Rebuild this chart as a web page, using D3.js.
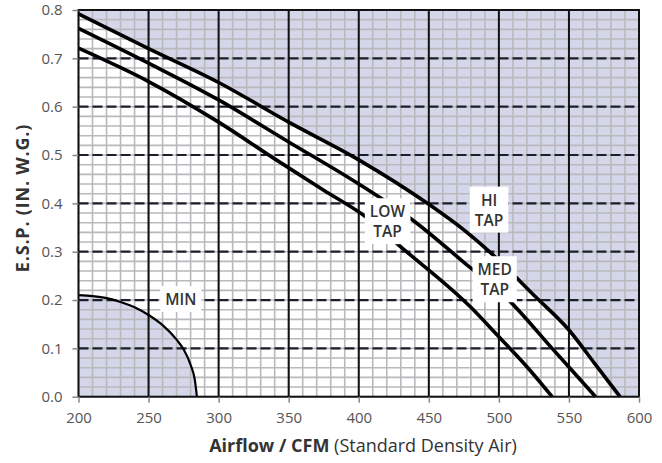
<!DOCTYPE html>
<html>
<head>
<meta charset="utf-8">
<script src="https://cdn.jsdelivr.net/npm/d3@7"></script>
<style>
  body { margin: 0; background: #fff; }
  svg { display: block; font-family: 'Open Sans', sans-serif; }
</style>
</head>
<body>
<div id="chart"></div>
<script>
// Fan curves: [CFM, E.S.P. in. w.g.]
const hiTap = [[200, 0.792], [250, 0.72], [300, 0.65], [350, 0.568], [400, 0.49], [450, 0.398], [475, 0.345], [500, 0.282], [525, 0.21], [550, 0.138], [568, 0.07], [586.5, 0]];
const medTap = [[200, 0.762], [250, 0.69], [300, 0.614], [350, 0.527], [400, 0.44], [440, 0.362], [475, 0.278], [507, 0.2], [538, 0.1], [569, 0]];
const lowTap = [[200, 0.721], [250, 0.652], [300, 0.568], [340, 0.492], [375, 0.427], [405, 0.372], [430, 0.31], [480, 0.185], [500, 0.124], [520, 0.062], [538, 0]];
const minCurve = [[200, 0.21], [210, 0.208], [220, 0.204], [230, 0.196], [240, 0.185], [250, 0.169], [260, 0.148], [270, 0.118], [275, 0.098], [280, 0.066], [283, 0.035], [284.5, 0]];

const xTicks = [200, 250, 300, 350, 400, 450, 500, 550, 600];
const yTicks = [0, 0.1, 0.2, 0.3, 0.4, 0.5, 0.6, 0.7, 0.8];

// label anchors [CFM, value, text lines]
const tapLabels = [
  { cfm: 420.5, v: 0.362, lines: ['LOW', 'TAP'] },
  { cfm: 493, v: 0.386, lines: ['HI', 'TAP'] },
  { cfm: 497, v: 0.242, lines: ['MED', 'TAP'] },
  { cfm: 273, v: 0.201, lines: ['MIN'] }
];

const W = 662, H = 463;
const svg = d3.select('#chart').append('svg').attr('width', W).attr('height', H);

const x = d3.scaleLinear().domain([200, 600]).range([78.5, 639]);
const y = d3.scaleLinear().domain([0, 0.8]).range([396.7, 10]);

const lavender = '#d4d7e9';

// plot background
svg.append('rect')
  .attr('x', x(200)).attr('y', y(0.8))
  .attr('width', x(600) - x(200)).attr('height', y(0) - y(0.8))
  .attr('fill', '#fff');

// shaded region above HI TAP curve
const aboveArea = d3.area()
  .x(d => x(d[0]))
  .y0(y(0.8))
  .y1(d => y(d[1]))
  .curve(d3.curveMonotoneX);
svg.append('path')
  .attr('d', aboveArea(hiTap.concat([[600, 0]])))
  .attr('fill', lavender);

// shaded region under MIN curve
const belowArea = d3.area()
  .x(d => x(d[0]))
  .y0(y(0))
  .y1(d => y(d[1]))
  .curve(d3.curveMonotoneX);
svg.append('path')
  .attr('d', belowArea(minCurve))
  .attr('fill', lavender);

// minor grid
const grid = svg.append('g');
grid.selectAll('.vminor')
  .data(x.ticks(40))
  .join('line')
  .attr('x1', d => x(d)).attr('x2', d => x(d))
  .attr('y1', y(0.8)).attr('y2', y(0))
  .attr('stroke', '#b9b9bd').attr('stroke-width', 1.6);
grid.selectAll('.hminor')
  .data(y.ticks(40))
  .join('line')
  .attr('y1', d => y(d)).attr('y2', d => y(d))
  .attr('x1', x(200)).attr('x2', x(600))
  .attr('stroke', '#b9b9bd').attr('stroke-width', 1.6);

// major grid: dashed horizontals, solid verticals
grid.selectAll('.hmajor')
  .data(yTicks.slice(1, -1))
  .join('line')
  .attr('y1', d => y(d)).attr('y2', d => y(d))
  .attr('x1', x(200)).attr('x2', x(600))
  .attr('stroke', '#1c1e2a').attr('stroke-width', 2.2)
  .attr('stroke-dasharray', '10,4');
grid.selectAll('.vmajor')
  .data(xTicks.slice(1, -1))
  .join('line')
  .attr('x1', d => x(d)).attr('x2', d => x(d))
  .attr('y1', y(0.8)).attr('y2', y(0))
  .attr('stroke', '#111').attr('stroke-width', 2);

// curves
const line = d3.line()
  .x(d => x(d[0]))
  .y(d => y(d[1]))
  .curve(d3.curveMonotoneX);

svg.selectAll('.tap')
  .data([hiTap, medTap, lowTap])
  .join('path')
  .attr('d', line)
  .attr('fill', 'none')
  .attr('stroke', '#000')
  .attr('stroke-width', 3.6);

svg.append('path')
  .attr('d', line(minCurve))
  .attr('fill', 'none')
  .attr('stroke', '#000')
  .attr('stroke-width', 2.2);

// labels with white boxes
tapLabels.forEach(l => {
  const g = svg.append('g').attr('transform', `translate(${x(l.cfm)},${y(l.v)})`);
  const lh = 20;
  const t = g.append('text')
    .attr('text-anchor', 'middle')
    .style('font-size', '15.5px')
    .style('font-weight', 600)
    .attr('fill', '#333');
  l.lines.forEach((s, i) => {
    t.append('tspan')
      .attr('x', 0)
      .attr('y', (i - (l.lines.length - 1) / 2) * lh + 5.5)
      .text(s);
  });
  const bb = t.node().getBBox();
  g.insert('rect', 'text')
    .attr('x', bb.x - 5).attr('y', bb.y - 2)
    .attr('width', bb.width + 10).attr('height', bb.height + 4)
    .attr('fill', '#fff');
});

// border
svg.append('rect')
  .attr('x', x(200)).attr('y', y(0.8))
  .attr('width', x(600) - x(200)).attr('height', y(0) - y(0.8))
  .attr('fill', 'none')
  .attr('stroke', '#111').attr('stroke-width', 2);

// axes
const xAxis = svg.append('g')
  .attr('transform', `translate(0,${y(0)})`)
  .call(d3.axisBottom(x).tickValues(xTicks).tickSize(6).tickPadding(10).tickFormat(d3.format('d')));
const yAxis = svg.append('g')
  .attr('transform', `translate(${x(200)},0)`)
  .call(d3.axisLeft(y).tickValues(yTicks).tickSize(6).tickPadding(10).tickFormat(d3.format('.1f')));

[xAxis, yAxis].forEach(a => {
  a.select('.domain').remove();
  a.selectAll('line').attr('stroke', '#888').attr('stroke-width', 1.5);
  a.selectAll('text')
    .attr('fill', '#555')
    .style('font-size', '15px')
    .style('font-family', "'Open Sans', sans-serif");
});

// axis titles
const xt = svg.append('text')
  .attr('x', 363).attr('y', 452)
  .attr('text-anchor', 'middle')
  .attr('fill', '#333')
  .style('font-size', '18px');
xt.append('tspan').style('font-weight', 700).text('Airflow / CFM');
xt.append('tspan').text(' (Standard Density Air)');

svg.append('text')
  .attr('transform', `translate(29,198) rotate(-90)`)
  .attr('text-anchor', 'middle')
  .attr('fill', '#333')
  .style('font-size', '18px')
  .style('font-weight', 700)
  .style('letter-spacing', '0.8px')
  .text('E.S.P. (IN. W.G.)');
</script>
</body>
</html>
